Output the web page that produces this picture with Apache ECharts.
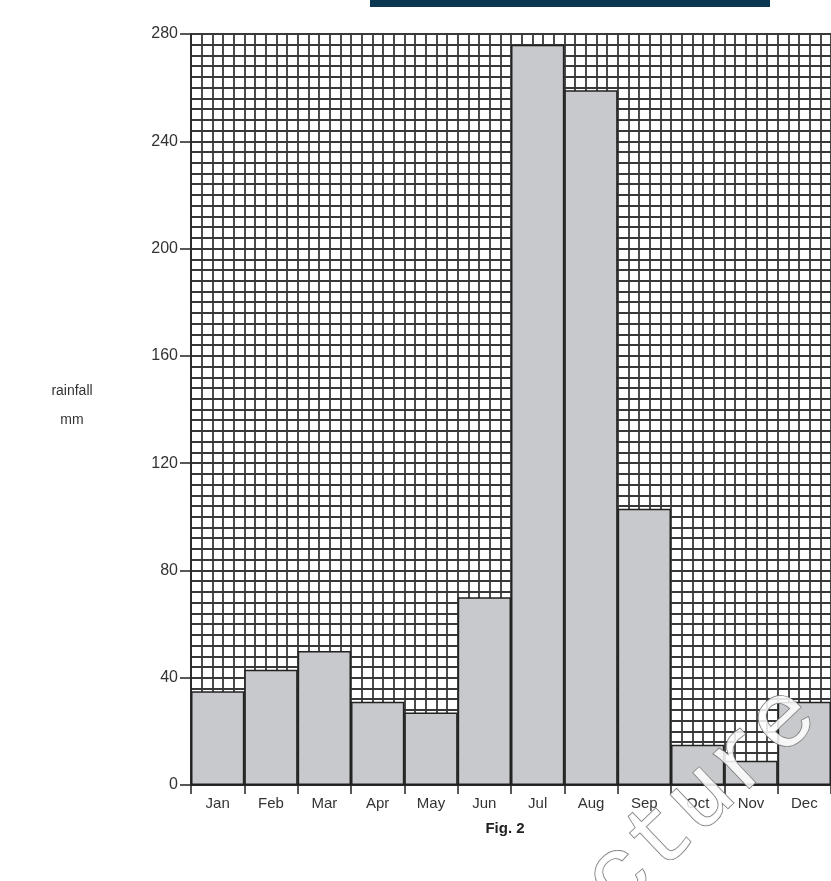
<!DOCTYPE html>
<html>
<head>
<meta charset="utf-8">
<script src="https://cdn.jsdelivr.net/npm/echarts@6/dist/echarts.min.js"></script>
<style>
html,body{margin:0;padding:0;background:#fff;}
#chart{width:831px;height:881px;}
</style>
</head>
<body>
<div id="chart"></div>
<script>
const months = ['Jan','Feb','Mar','Apr','May','Jun','Jul','Aug','Sep','Oct','Nov','Dec'];
const rainfall = [35, 43, 50, 31, 27, 70, 276, 259, 103, 15, 9, 31];
const yTicks = [0, 40, 80, 120, 160, 200, 240, 280];
const yAxisTitle = ['rainfall', 'mm'];
const figLabel = 'Fig. 2';
const watermark = 'cture';

const gridLine = {color: '#383838', width: 1.8};
const chart = echarts.init(document.getElementById('chart'));
chart.setOption({
  animation: false,
  backgroundColor: '#fff',
  grid: {left: 191, right: -11, top: 34, bottom: 96},
  xAxis: [
    {
      type: 'category', data: months, position: 'bottom',
      axisLine: {show: true, lineStyle: {color: '#222', width: 1.5}},
      axisTick: {show: true, length: 9, interval: 0, lineStyle: {color: '#222', width: 1.5}},
      axisLabel: {color: '#333', fontSize: 15, fontFamily: 'Liberation Sans', margin: 11, interval: 0},
      splitLine: {show: false}, z: 5
    },
    {
      type: 'value', min: 0, max: months.length * 5, interval: 1, position: 'bottom',
      axisLine: {show: false}, axisTick: {show: false}, axisLabel: {show: false},
      splitLine: {show: true, lineStyle: gridLine}
    }
  ],
  yAxis: {
    type: 'value', min: yTicks[0], max: yTicks[yTicks.length - 1], interval: 40,
    axisLine: {show: true, lineStyle: {color: '#222', width: 1.5}},
    axisTick: {show: true, length: 11, lineStyle: {color: '#222', width: 1.5}},
    axisLabel: {color: '#333', fontSize: 16, fontFamily: 'Liberation Sans', margin: 13},
    splitLine: {show: true, lineStyle: gridLine},
    minorTick: {show: false, splitNumber: 10},
    minorSplitLine: {show: true, lineStyle: gridLine}
  },
  series: [{
    type: 'bar', xAxisIndex: 0, data: rainfall, barWidth: '100%', barCategoryGap: 0,
    itemStyle: {color: '#c8c9cc', borderColor: '#222', borderWidth: 1.5},
    z: 3
  }],
  graphic: [
    {type: 'rect', shape: {x: 370, y: 0, width: 400, height: 7}, style: {fill: '#0c3752'}},
    {type: 'text', x: 72, y: 384, style: {text: yAxisTitle[0], fill: '#333', fontSize: 14, fontFamily: 'Liberation Sans', align: 'center', verticalAlign: 'top'}},
    {type: 'text', x: 72, y: 413, style: {text: yAxisTitle[1], fill: '#333', fontSize: 14, fontFamily: 'Liberation Sans', align: 'center', verticalAlign: 'top'}},
    {type: 'text', x: 505, y: 821, style: {text: figLabel, fill: '#222', fontSize: 15, fontWeight: 'bold', fontFamily: 'Liberation Sans', align: 'center', verticalAlign: 'top'}},
    {type: 'text', x: 632, y: 930, rotation: 0.76, z: 100,
     style: {text: watermark, fill: 'rgba(255,255,255,0.85)', stroke: '#707070', lineWidth: 1.4, fontSize: 94, fontFamily: 'Liberation Mono', align: 'left', verticalAlign: 'bottom'}}
  ]
});
</script>
</body>
</html>
